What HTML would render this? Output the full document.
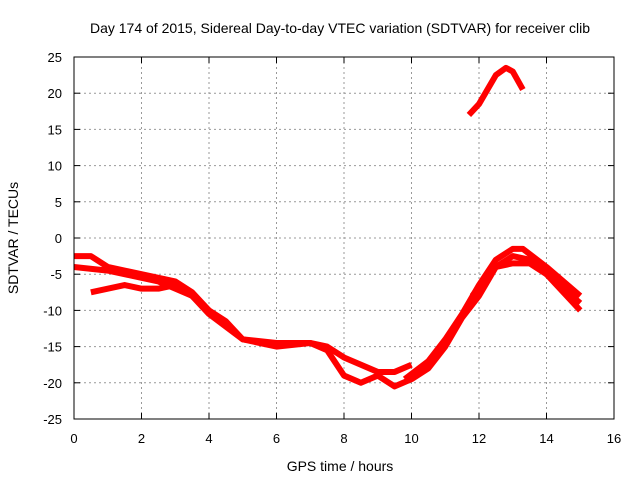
<!DOCTYPE html>
<html><head><meta charset="utf-8"><style>
body{margin:0;background:#fff;}
svg{display:block;font-family:"Liberation Sans",sans-serif;}
</style></head><body>
<svg id="chart" width="640" height="480" viewBox="0 0 640 480">
<text x="340" y="33" font-size="14" text-anchor="middle">Day 174 of 2015, Sidereal Day-to-day VTEC variation (SDTVAR) for receiver clib</text>
<text x="340" y="471" font-size="14" text-anchor="middle">GPS time / hours</text>
<text x="18" y="238" font-size="14" text-anchor="middle" transform="rotate(-90 18 238)">SDTVAR / TECUs</text>
<g id="grid"></g><g id="series"></g>
<rect x="74" y="57" width="540" height="362" fill="none" stroke="#000" stroke-width="1"/>
</svg>
<script>
const xTicks=[0,2,4,6,8,10,12,14,16];
const yTicks=[25,20,15,10,5,0,-5,-10,-15,-20,-25];
const s1x=[0,0.5,1,2,3,3.5,4,4.5,5,6,7,7.5,8,9,9.5,10];
const s1y=[-2.5,-2.5,-4,-5,-6,-7.5,-10,-11.5,-14,-14.5,-14.5,-15,-16.5,-18.5,-18.5,-17.5];
const s2x=[0,1,2,2.5,3,3.5,4,5,6,7,7.5,8,8.5,9,9.5,10,10.5,11,11.5,12,12.5,13,13.5,14,14.5,15];
const s2y=[-4,-4.5,-5.5,-6,-7,-8,-10.5,-14,-15,-14.5,-15.5,-19,-20,-19,-20.5,-19.5,-18,-15,-11,-8,-4,-2.5,-3,-5,-7,-9];
const s3x=[0.5,1,1.5,2,2.5,3,3.5,4];
const s3y=[-7.5,-7,-6.5,-7,-7,-6.5,-8,-10];
const s4x=[9.8,10.5,11,11.5,12,12.5,13,13.3,14,14.5,15];
const s4y=[-19.5,-17,-14,-10.5,-6.5,-3,-1.5,-1.5,-4,-6,-8];
const s5x=[11.8,12.2,12.5,13,13.5,14,14.5,15];
const s5y=[-8,-5.5,-4,-3.5,-3.5,-5,-7.5,-10];
const s6x=[11.7,12,12.5,12.8,13,13.3];
const s6y=[17,18.5,22.5,23.5,23,20.5];
const X=v=>74+v*540/16, Y=v=>238-v*362/50;
const NS="http://www.w3.org/2000/svg";
const g=document.getElementById('grid'), sg=document.getElementById('series'), svg=document.getElementById('chart');
function el(t,a,p){const e=document.createElementNS(NS,t);for(const k in a)e.setAttribute(k,a[k]);p.appendChild(e);return e;}
xTicks.forEach(v=>{
 if(v>0&&v<16){const l=el('line',{x1:X(v),x2:X(v),y1:57,y2:419,stroke:'#999','stroke-dasharray':'2,3'},g);
 
 }
 const t=el('text',{x:X(v),y:443,'font-size':13,'text-anchor':'middle'},g);t.textContent=v;
 
 
 el('line',{x1:X(v),x2:X(v),y1:419,y2:413,stroke:'#000'},g);el('line',{x1:X(v),x2:X(v),y1:57,y2:63,stroke:'#000'},g);
});
yTicks.forEach(v=>{
 if(v>-25&&v<25){const l=el('line',{x1:74,x2:614,y1:Y(v),y2:Y(v),stroke:'#999','stroke-dasharray':'2,3'},g);
 
 }
 const t=el('text',{x:62,y:Y(v)+5,'font-size':13,'text-anchor':'end'},g);t.textContent=v;
 
 
 el('line',{x1:74,x2:80,y1:Y(v),y2:Y(v),stroke:'#000'},g);el('line',{x1:608,x2:614,y1:Y(v),y2:Y(v),stroke:'#000'},g);
});
[[s1x,s1y],[s2x,s2y],[s3x,s3y],[s4x,s4y],[s5x,s5y],[s6x,s6y]].forEach((s,i)=>{
 const p=el('polyline',{points:s[0].map((x,j)=>X(x)+','+Y(s[1][j])).join(' '),fill:'none',stroke:'#f00','stroke-width':6,'stroke-linejoin':'round'},sg);
 
 
});
</script>
</body></html>
